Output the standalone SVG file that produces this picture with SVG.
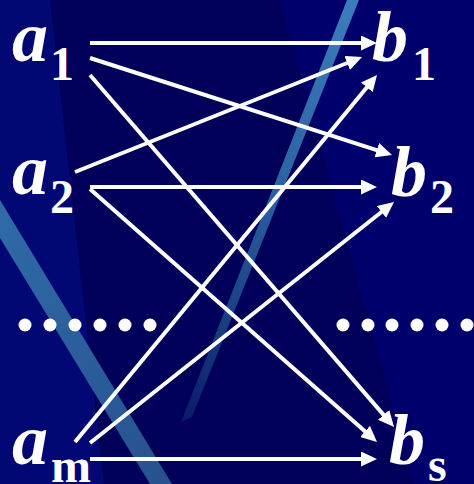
<svg xmlns="http://www.w3.org/2000/svg" width="474" height="484" viewBox="0 0 474 484">
<defs>
<linearGradient id="gTop" gradientUnits="userSpaceOnUse" x1="353" y1="0" x2="186" y2="420">
<stop offset="0" stop-color="#3d7cbc"/>
<stop offset="0.45" stop-color="#2b62a2"/>
<stop offset="0.8" stop-color="#173a7e"/>
<stop offset="1" stop-color="#0a1a6a"/>
</linearGradient>
<linearGradient id="gLeft" gradientUnits="userSpaceOnUse" x1="0" y1="210" x2="160" y2="484">
<stop offset="0" stop-color="#2f6aa8"/>
<stop offset="1" stop-color="#27528e"/>
</linearGradient>
<marker id="ah" markerUnits="userSpaceOnUse" markerWidth="16" markerHeight="15" refX="4" refY="7.5" orient="auto">
<path d="M0,0 L16,7.5 L0,15 z" fill="#ffffff"/>
</marker>
<circle id="dot" r="6.5" fill="#ffffff"/>
</defs>
<g id="background">
<rect x="0" y="0" width="474" height="484" fill="#00006c"/>
<polygon points="0,0 50,0 104,484 0,484" fill="#010874"/>
<polygon points="50,0 280,0 414,484 104,484" fill="#00005a"/>
<polygon points="0,200 172,484 150,484 0,238" fill="url(#gLeft)"/>
<polygon points="347,0 359,0 192,417 181,422" fill="url(#gTop)"/>
</g>
<g id="connectors" stroke="#ffffff" stroke-width="4" fill="none">
<line x1="90" y1="43" x2="365" y2="43" marker-end="url(#ah)"/>
<line x1="90" y1="58" x2="380.6" y2="151.3" marker-end="url(#ah)"/>
<line x1="90" y1="75" x2="386.2" y2="417.9" marker-end="url(#ah)"/>
<line x1="75" y1="172" x2="350.9" y2="61.5" marker-end="url(#ah)"/>
<line x1="90" y1="187" x2="365" y2="187" marker-end="url(#ah)"/>
<line x1="90" y1="189" x2="368" y2="434.1" marker-end="url(#ah)"/>
<line x1="75" y1="442" x2="369.4" y2="84.3" marker-end="url(#ah)"/>
<line x1="90" y1="443" x2="384.6" y2="209.5" marker-end="url(#ah)"/>
<line x1="90" y1="459" x2="365" y2="459" marker-end="url(#ah)"/>
</g>
<g id="a1"><text x="12" y="61" font-family="Liberation Serif" font-weight="bold" font-style="italic" font-size="72" fill="#ffffff">a</text><text x="50" y="80" font-family="Liberation Serif" font-weight="bold" font-size="48" fill="#ffffff">1</text></g>
<g id="a2"><text x="12" y="194" font-family="Liberation Serif" font-weight="bold" font-style="italic" font-size="72" fill="#ffffff">a</text><text x="50" y="213" font-family="Liberation Serif" font-weight="bold" font-size="48" fill="#ffffff">2</text></g>
<g id="am"><text x="12" y="464" font-family="Liberation Serif" font-weight="bold" font-style="italic" font-size="72" fill="#ffffff">a</text><text x="51" y="482" font-family="Liberation Serif" font-weight="bold" font-size="48" fill="#ffffff">m</text></g>
<g id="b1"><text x="372" y="61" font-family="Liberation Serif" font-weight="bold" font-style="italic" font-size="72" fill="#ffffff">b</text><text x="412" y="80" font-family="Liberation Serif" font-weight="bold" font-size="48" fill="#ffffff">1</text></g>
<g id="b2"><text x="391" y="196" font-family="Liberation Serif" font-weight="bold" font-style="italic" font-size="72" fill="#ffffff">b</text><text x="430" y="213" font-family="Liberation Serif" font-weight="bold" font-size="48" fill="#ffffff">2</text></g>
<g id="bs"><text x="389" y="464" font-family="Liberation Serif" font-weight="bold" font-style="italic" font-size="72" fill="#ffffff">b</text><text x="428" y="481" font-family="Liberation Serif" font-weight="bold" font-size="48" fill="#ffffff">s</text></g>
<g id="dots-left">
<use href="#dot" x="25" y="325"/>
<use href="#dot" x="50" y="325"/>
<use href="#dot" x="75" y="325"/>
<use href="#dot" x="100" y="325"/>
<use href="#dot" x="125" y="325"/>
<use href="#dot" x="150" y="325"/>
</g>
<g id="dots-right">
<use href="#dot" x="343" y="325"/>
<use href="#dot" x="368" y="325"/>
<use href="#dot" x="392" y="325"/>
<use href="#dot" x="417" y="325"/>
<use href="#dot" x="442" y="325"/>
<use href="#dot" x="467" y="325"/>
</g>
</svg>
